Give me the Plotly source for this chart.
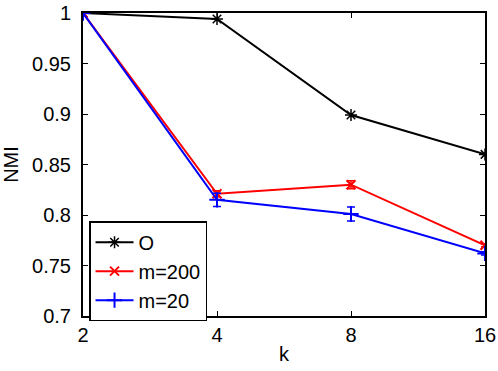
import plotly.graph_objects as go

k = [2, 4, 8, 16]
nmi_o = [1.0, 0.994, 0.899, 0.860]
nmi_m200 = [1.0, 0.821, 0.830, 0.770]
err_m200 = [0.0, 0.003, 0.004, 0.0015]
nmi_m20 = [1.0, 0.815, 0.801, 0.762]
err_m20 = [0.0, 0.0065, 0.007, 0.0015]
y_ticks = [0.7, 0.75, 0.8, 0.85, 0.9, 0.95, 1]
y_labels = ['0.7', '0.75', '0.8', '0.85', '0.9', '0.95', '1']

FONT = 'Liberation Sans, Arial, sans-serif'
FS = 20

fig = go.Figure()
fig.add_trace(go.Scatter(
  name='O', x=k, y=nmi_o, mode='lines+markers',
  line=dict(color='black', width=2),
  marker=dict(symbol='asterisk-open', size=10,
              line=dict(color='black', width=1.5))))
fig.add_trace(go.Scatter(
  name='m=200', x=k, y=nmi_m200, mode='lines+markers',
  line=dict(color='#ff0000', width=2),
  marker=dict(symbol='x-thin-open', size=9,
              line=dict(color='#ff0000', width=2)),
  error_y=dict(type='data', array=err_m200, color='#ff0000',
               thickness=1.5, width=4)))
fig.add_trace(go.Scatter(
  name='m=20', x=k, y=nmi_m20, mode='lines+markers',
  line=dict(color='#0000ff', width=2),
  marker=dict(symbol='cross-thin-open', size=11,
              line=dict(color='#0000ff', width=2)),
  error_y=dict(type='data', array=err_m20, color='#0000ff',
               thickness=1.5, width=4)))

axis_common = dict(
  showline=True, linecolor='black', linewidth=2, mirror='ticks',
  ticks='inside', ticklen=5, tickwidth=1, tickcolor='black',
  showgrid=False, zeroline=False, automargin=False,
  tickfont=dict(family=FONT, size=FS, color='black'))

fig.update_xaxes(type='log', range=[0.30103, 1.20412],
  tickvals=k, ticktext=[str(v) for v in k], ticklabelstandoff=0,
  title=dict(text='k', font=dict(family=FONT, size=FS, color='black'),
             standoff=2),
  **axis_common)
fig.update_yaxes(range=[0.7, 1.0], tickvals=y_ticks, ticktext=y_labels,
  ticklabelstandoff=6,
  title=dict(text='NMI', font=dict(family=FONT, size=FS, color='black'),
             standoff=14),
  **axis_common)

fig.update_layout(
  width=498, height=371,
  margin=dict(l=83, r=13, t=13, b=55),
  paper_bgcolor='white', plot_bgcolor='white',
  showlegend=True,
  legend=dict(x=0.015, y=0.313, xanchor='left', yanchor='top',
              bgcolor='white', bordercolor='black', borderwidth=1.5,
              font=dict(family=FONT, size=20, color='black'),
              tracegroupgap=0, itemwidth=38))

# drop the default page margin so the figure sits at the window corner
fig.write_html('out.html', config={'displayModeBar': False},
               post_script="document.body.style.margin = '0';")
